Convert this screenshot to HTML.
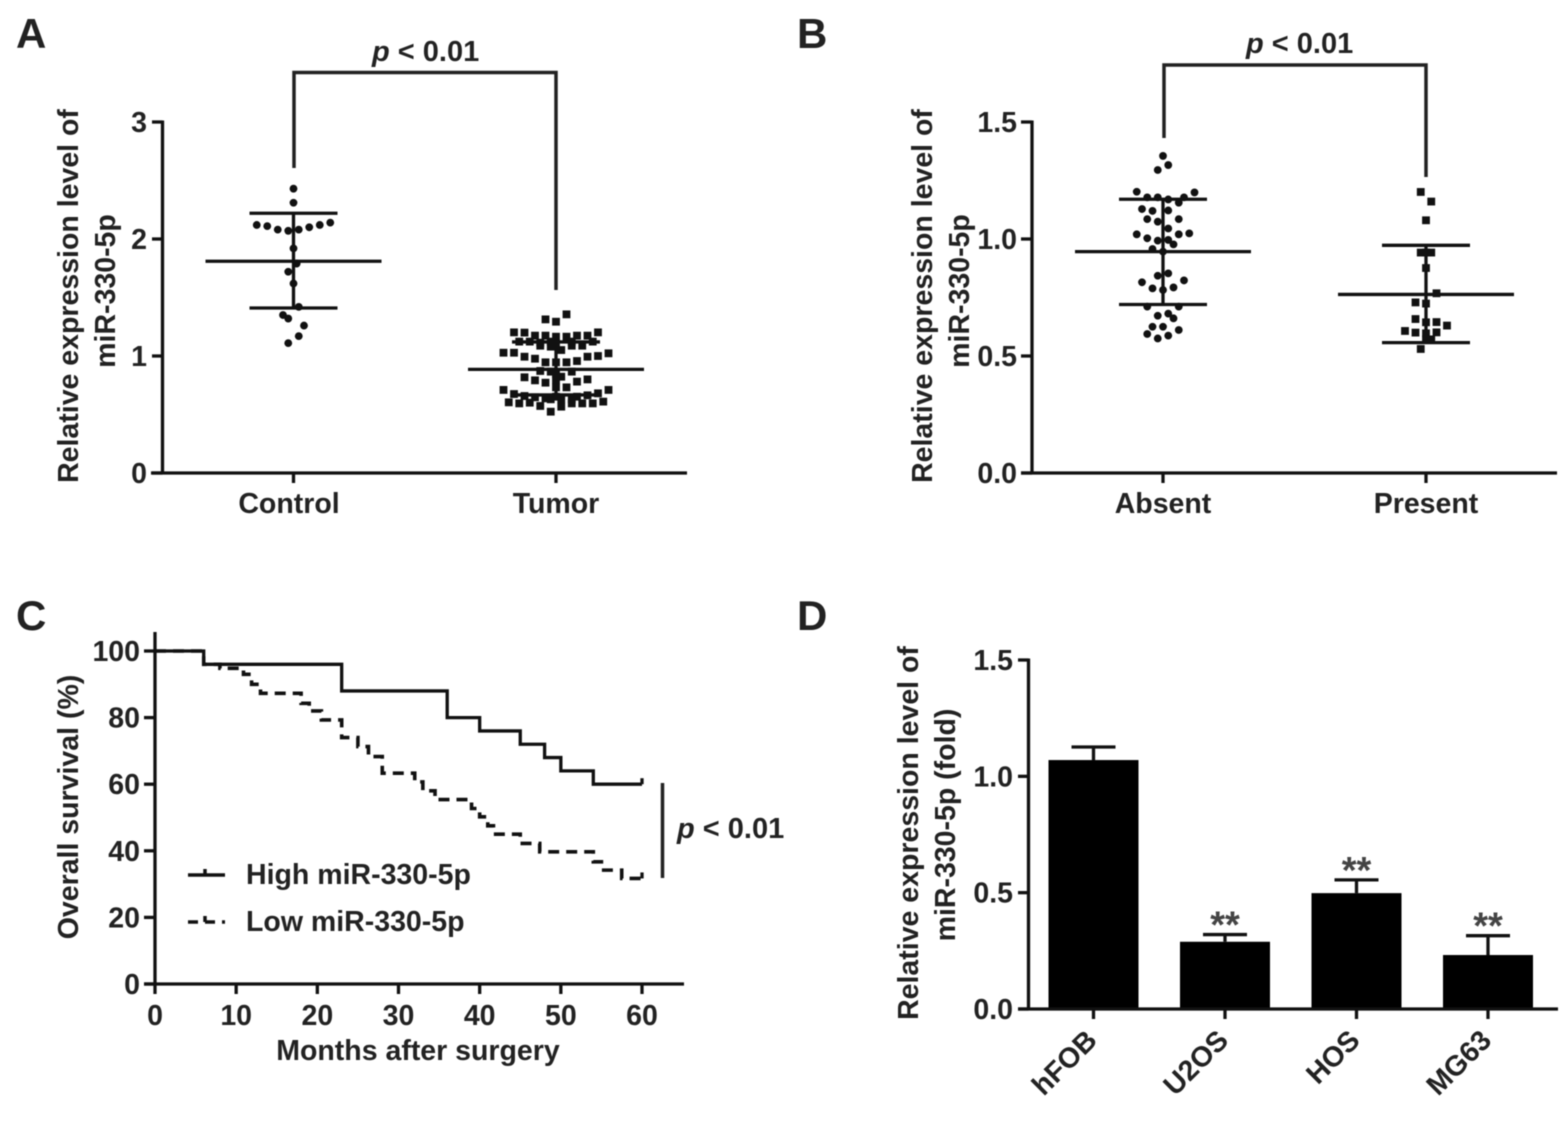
<!DOCTYPE html>
<html>
<head>
<meta charset="utf-8">
<title>miR-330-5p expression figure</title>
<style>
html,body{margin:0;padding:0;background:#fff;}
svg{display:block;filter:blur(0.45px);}
text{font-family:"Liberation Sans",Arial,sans-serif;font-weight:bold;fill:#222;}
</style>
</head>
<body>
<svg id="figure" xmlns="http://www.w3.org/2000/svg" width="1559" height="1130" viewBox="0 0 1559 1130">
<rect width="1559" height="1130" fill="#fff"/>
<text x="16" y="48" font-size="42">A</text>
<text x="797" y="48" font-size="42">B</text>
<text x="16" y="630" font-size="42">C</text>
<text x="797" y="630" font-size="42">D</text>

<g font-size="28.5">
<text transform="translate(78,296) rotate(-90)" text-anchor="middle">Relative expression level of</text>
<text transform="translate(115,291) rotate(-90)" text-anchor="middle">miR-330-5p</text>
</g>
<g font-size="28.5">
<text transform="translate(932,296) rotate(-90)" text-anchor="middle">Relative expression level of</text>
<text transform="translate(969,291) rotate(-90)" text-anchor="middle">miR-330-5p</text>
</g>
<text transform="translate(78,807) rotate(-90)" text-anchor="middle" font-size="28.5">Overall survival (%)</text>
<text x="418" y="1060" text-anchor="middle" font-size="28.5">Months after surgery</text>
<g font-size="28.5">
<text transform="translate(918,833) rotate(-90)" text-anchor="middle">Relative expression level of</text>
<text transform="translate(955,825) rotate(-90)" text-anchor="middle">miR-330-5p (fold)</text>
</g>

<text x="372" y="61" font-size="29"><tspan font-style="italic">p</tspan> &lt; 0.01</text>
<text x="1246" y="53" font-size="29"><tspan font-style="italic">p</tspan> &lt; 0.01</text>
<text x="677" y="838" font-size="29"><tspan font-style="italic">p</tspan> &lt; 0.01</text>

<path d="M294 168V72.500H556V290" fill="none" stroke="#222" stroke-width="3.5"/>
<path d="M1164 138V65H1426V177" fill="none" stroke="#222" stroke-width="3.5"/>
<path d="M662.500 783V878" fill="none" stroke="#222" stroke-width="3.5"/>

<g>
<path d="M188 875H225M205 869V875" fill="none" stroke="#111" stroke-width="3.5"/>
<text x="246" y="884" font-size="28.5">High miR-330-5p</text>
</g>
<g>
<path d="M188 922H225" fill="none" stroke="#111" stroke-width="3.5" stroke-dasharray="10 7"/>
<path d="M205 916V922" fill="none" stroke="#111" stroke-width="3.5"/>
<text x="246" y="931" font-size="28.5">Low miR-330-5p</text>
</g>
<g id="plots"></g>
</svg>

<script>
/* Panel A */
const aTicks = [0, 1, 2, 3];
const aCategories = ['Control', 'Tumor'];
const controlBins = [0,0,-3.5,-2.5,-1.5,-0.5,0.5,1.5,2.5,3.5,0,0.3,-0.5,0,0.5,-1,-0.5,1,0.5,-0.5];
const controlValues = [2.43,2.31,2.12,2.11,2.08,2.07,2.08,2.10,2.12,2.14,1.92,1.79,1.72,1.62,1.42,1.35,1.32,1.26,1.17,1.11];
const tumorBins = [1,-1,0,-4,-3,4,-2,-1,0,1,2,3,-3.5,-2.5,-1.5,-0.5,1.5,3.5,-1.5,-0.5,0.5,1.5,2.5,0,-5,-4,5,-3,-2,4,3,-1,0,1,2,-1.5,-0.5,0,1.5,-3,-2,-1,0.5,2,3,0,0,1,-5,5,-4,-3,-2,-1,0,2,3,4,-4.5,-3.5,-2.5,-1.5,-0.5,0.5,0.5,1.5,2.5,3.5,4.5,1.5,-0.5];
const tumorValues = [1.356,1.313,1.293,1.202,1.2,1.202,1.174,1.174,1.165,1.165,1.174,1.174,1.123,1.123,1.114,1.123,1.123,1.123,1.088,1.08,1.051,1.088,1.088,1.108,1.028,1.028,1.023,0.994,0.977,1.0,0.994,0.946,0.946,0.946,0.957,0.872,0.866,0.846,0.866,0.818,0.792,0.772,0.823,0.781,0.8,0.795,0.732,0.732,0.71,0.71,0.675,0.658,0.647,0.638,0.652,0.652,0.664,0.681,0.604,0.595,0.601,0.573,0.63,0.567,0.63,0.595,0.595,0.595,0.61,0.63,0.524];
const aMeans = [1.81, 0.886];
const aUpper = [2.22, 1.12];
const aLower = [1.41, 0.667];

/* Panel B */
const bTicks = [0, 0.5, 1, 1.5];
const bCategories = ['Absent', 'Present'];
const absentBins = [0,0.5,-0.5,-2.5,3,-1.5,-0.5,0.5,2,1.5,-2,-1,0.5,-1.5,-0.5,1.5,0.5,-2.5,-1.5,-0.5,0.5,1,1.5,2.5,-1,0,-0.5,0.5,-2,2,-1,1,0,-1.5,1.5,-0.5,0.5,1,-1,0,1.5,-1.5,-0.5,0.5];
const absentValues = [1.355,1.316,1.295,1.202,1.199,1.178,1.178,1.169,1.178,1.155,1.128,1.12,1.122,1.085,1.074,1.085,1.045,1.02,1.003,0.993,0.996,0.977,1.02,1.024,0.957,0.946,0.843,0.853,0.815,0.823,0.789,0.793,0.782,0.711,0.711,0.672,0.681,0.661,0.625,0.625,0.611,0.594,0.575,0.587];
const presentBins = [-0.5,0.5,0,-0.5,0.5,0,0,1,-1,0,-1,0,1,2,-2,-1,0,1,0,0.5,-0.5];
const presentValues = [1.201,1.16,1.08,0.942,0.942,0.942,0.876,0.768,0.729,0.724,0.658,0.644,0.645,0.63,0.607,0.6,0.597,0.601,0.571,0.571,0.53];
const bMeans = [0.946, 0.763];
const bUpper = [1.17, 0.973];
const bLower = [0.72, 0.557];

/* Panel C */
const cXTicks = [0, 10, 20, 30, 40, 50, 60];
const cYTicks = [0, 20, 40, 60, 80, 100];
const highMonths = [0,6,23,36,40,45,48,50,54,60];
const highSurvival = [100,96,88,80,76,72,68,64,60,60];
const lowMonths = [0,6,8,10.9,11.9,13,18,19,20.5,23,25,26.3,28,32,33,34.5,39,40,41,41.7,45,47.4,54,55,57.5,60];
const lowSurvival = [100,96,94.8,93,90,87.3,84.3,82,79.3,74,71.3,68.3,63.3,60.7,58,55.4,52.7,50.2,47.5,45,42.2,39.7,36.7,34.2,31.7,31.7];

/* Panel D */
const dTicks = [0, 0.5, 1, 1.5];
const dCategories = ['hFOB', 'U2OS', 'HOS', 'MG63'];
const dValues = [1.07, 0.289, 0.498, 0.232];
const dErrorTops = [1.126, 0.32, 0.555, 0.315];
const dStars = ['', '**', '**', '**'];

const NS = 'http://www.w3.org/2000/svg';
const plots = document.getElementById('plots');

function linear(d0, d1, r0, r1) {
  return function (v) { return r0 + (v - d0) * (r1 - r0) / (d1 - d0); };
}
function mk(tag, attrs, parent) {
  const el = document.createElementNS(NS, tag);
  for (const k in attrs) el.setAttribute(k, attrs[k]);
  parent.appendChild(el);
  return el;
}
function group(name) {
  const g = mk('g', {}, plots);
  
  
  return g;
}
function seg(parent, name, x1, y1, x2, y2, width) {
  const l = mk('line', { x1: x1, y1: y1, x2: x2, y2: y2, stroke: '#111', 'stroke-width': width || 3.3 }, parent);
  
  
  return l;
}
function label(parent, name, str, x, y, anchor, size) {
  const t = mk('text', { x: x, y: y, 'text-anchor': anchor, 'font-size': size || 28.5 }, parent);
  t.textContent = str;
  
  
  return t;
}
function fmt(v, decimals) { return v.toFixed(decimals); }

function yAxis(g, prefix, ticks, sy, axisX, tickX, labelX, decimals, top, bottom) {
  seg(g, prefix + '-y-axis-line', axisX, top - 1.5, axisX, bottom + 1.5);
  ticks.forEach(function (v) {
    seg(g, prefix + '-y-tick', tickX, sy(v), axisX, sy(v));
    label(g, prefix + '-y-tick-label', fmt(v, decimals), labelX, sy(v) + 10, 'end');
  });
}

function swarm(g, prefix, cx, sy, bins, values, square) {
  values.forEach(function (v, i) {
    const x = cx + bins[i] * 10.5;
    const y = sy(v);
    let mark;
    if (square) {
      mark = mk('rect', { x: x - 3.9, y: y - 3.9, width: 7.8, height: 7.8, fill: '#111' }, g);
    } else {
      mark = mk('circle', { cx: x, cy: y, r: 3.9, fill: '#111' }, g);
    }
    
    
  });
}

function errorMarks(g, prefix, cx, sy, mean, upper, lower) {
  seg(g, prefix + '-mean-line', cx - 88, sy(mean), cx + 88, sy(mean));
  seg(g, prefix + '-sd-upper', cx - 44, sy(upper), cx + 44, sy(upper));
  seg(g, prefix + '-sd-lower', cx - 44, sy(lower), cx + 44, sy(lower));
  seg(g, prefix + '-sd-stem', cx, sy(upper), cx, sy(lower));
}

/* Draw panel A */
(function () {
  const g = group('panel-a');
  const sy = linear(0, 3, 473, 122);
  const centers = [293.5, 556];
  yAxis(g, 'panel-a', aTicks, sy, 162.5, 152, 147, 0, 122, 473);
  seg(g, 'panel-a-x-axis-line', 151, 473, 687, 473);
  aCategories.forEach(function (c, i) {
    seg(g, 'panel-a-x-tick', centers[i], 473, centers[i], 483);
    label(g, 'panel-a-x-tick-label', c, i === 0 ? 289 : 556, 513, 'middle');
    errorMarks(g, c.toLowerCase(), centers[i], sy, aMeans[i], aUpper[i], aLower[i]);
  });
  swarm(g, 'control', centers[0], sy, controlBins, controlValues, false);
  swarm(g, 'tumor', centers[1], sy, tumorBins, tumorValues, true);
})();

/* Draw panel B */
(function () {
  const g = group('panel-b');
  const sy = linear(0, 1.5, 473, 122);
  const centers = [1163, 1426];
  yAxis(g, 'panel-b', bTicks, sy, 1032, 1021, 1017, 1, 122, 473);
  seg(g, 'panel-b-x-axis-line', 1021, 473, 1557, 473);
  bCategories.forEach(function (c, i) {
    seg(g, 'panel-b-x-tick', centers[i], 473, centers[i], 483);
    label(g, 'panel-b-x-tick-label', c, centers[i], 513, 'middle');
    errorMarks(g, c.toLowerCase(), centers[i], sy, bMeans[i], bUpper[i], bLower[i]);
  });
  swarm(g, 'absent', centers[0], sy, absentBins, absentValues, false);
  swarm(g, 'present', centers[1], sy, presentBins, presentValues, true);
})();

/* Draw panel C */
(function () {
  const g = group('panel-c');
  const sx = linear(0, 60, 155, 642);
  const sy = linear(0, 100, 984, 651);
  seg(g, 'panel-c-y-axis-line', 155, 632, 155, 985.5);
  seg(g, 'panel-c-x-axis-line', 144, 984, 684, 984);
  cYTicks.forEach(function (v) {
    seg(g, 'panel-c-y-tick', 144, sy(v), 155, sy(v));
    label(g, 'panel-c-y-tick-label', String(v), 140, sy(v) + 10, 'end');
  });
  cXTicks.forEach(function (v) {
    seg(g, 'panel-c-x-tick', sx(v), 984, sx(v), 994);
    label(g, 'panel-c-x-tick-label', String(v), sx(v), 1025, 'middle');
  });
  function stepPath(months, levels) {
    let d = 'M' + sx(months[0]) + ' ' + sy(levels[0]);
    for (let i = 1; i < months.length; i++) {
      d += 'H' + sx(months[i]) + 'V' + sy(levels[i]);
    }
    return d;
  }
  const high = mk('path', { d: stepPath(highMonths, highSurvival), fill: 'none', stroke: '#111', 'stroke-width': 3.3 }, g);
  
  
  const low = mk('path', { d: stepPath(lowMonths, lowSurvival), fill: 'none', stroke: '#111', 'stroke-width': 3.6, 'stroke-dasharray': '11 7' }, g);
  
  
  const lastH = highMonths.length - 1;
  seg(g, 'high-censor-tick', sx(highMonths[lastH]), sy(highSurvival[lastH]), sx(highMonths[lastH]), sy(highSurvival[lastH]) - 6);
  const lastL = lowMonths.length - 1;
  seg(g, 'low-censor-tick', sx(lowMonths[lastL]), sy(lowSurvival[lastL]), sx(lowMonths[lastL]), sy(lowSurvival[lastL]) - 6);
})();

/* Draw panel D */
(function () {
  const g = group('panel-d');
  const sy = linear(0, 1.5, 1009, 660);
  const sx = function (i) { return 1093.5 + i * 131.5; };
  yAxis(g, 'panel-d', dTicks, sy, 1028.5, 1018, 1013, 1, 660, 1009);
  dCategories.forEach(function (c, i) {
    const cx = sx(i);
    seg(g, 'error-bar-stem-' + c.toLowerCase(), cx, sy(dErrorTops[i]), cx, sy(dValues[i]));
    seg(g, 'error-bar-cap-' + c.toLowerCase(), cx - 22, sy(dErrorTops[i]), cx + 22, sy(dErrorTops[i]));
    const bar = mk('rect', { x: cx - 45, y: sy(dValues[i]), width: 90, height: sy(0) - sy(dValues[i]), fill: '#000' }, g);
    
    
    seg(g, 'panel-d-x-tick', cx, 1009, cx, 1019);
    const t = mk('text', { transform: 'translate(' + (cx + 5) + ',1042) rotate(-45)', 'text-anchor': 'end', 'font-size': 28.5 }, g);
    t.textContent = c;
    
    
    if (dStars[i]) {
      const s = label(g, 'significance-stars-' + c.toLowerCase(), dStars[i], cx, sy(dErrorTops[i]) + 3, 'middle', 38);
      s.style.fill = '#444';
    }
  });
  seg(g, 'panel-d-x-axis-line', 1018, 1009, 1558, 1009);
})();
</script>
</body>
</html>
